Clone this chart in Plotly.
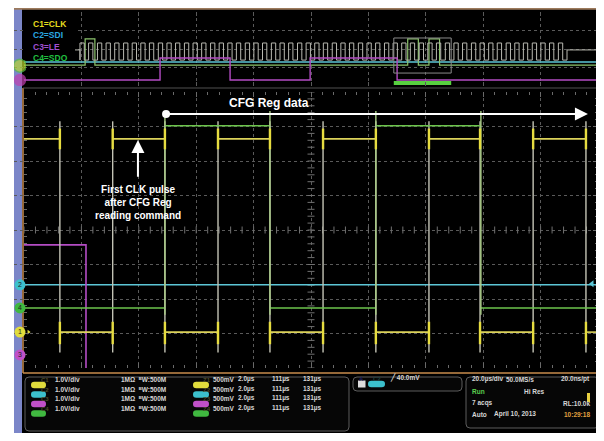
import plotly.graph_objects as go

# the page adds an 8 px body margin; the figure covers the window from (8, 8)
OFF = 8
W, H = 604 - OFF, 441 - OFF

# ---------------- main (zoomed) window: time in µs (20 µs/div), level in divisions
main_t_range = [-100, 100]
main_v_range = [-4, 4]

clk_edges = [-87.5, -69.1, -50.9, -32.4, -14.3, 4.2, 22.6, 41.1, 58.9, 77.4, 95.8]
clk_starts_high = True
clk_high, clk_low = 2.64, -2.96
clk_over_top, clk_over_bot = 3.15, -3.55

sdo_edges = [-50.9, -14.3, 22.6, 59.2]
sdo_starts_high = False
sdo_high, sdo_low = 3.02, -2.26
sdo_over_top = 3.45

sdi_level = -1.59

le_edges = [-78.4]
le_starts_high = True
le_high, le_low = -0.43, -4.6

ch_labels = ["1", "2", "3", "4"]
ch_ground = [clk_low, sdi_level, -3.62, sdo_low]

# annotation anchors (µs, div)
cfg_arrow_tail = (-50.5, 3.36)
cfg_arrow_head = (96.5, 3.36)
cfg_text_pos = (-14.6, 3.68)
first_arrow_tip = (-60.3, 2.61)
first_arrow_tail = (-60.3, 1.5)
first_text_pos = (-60.3, 0.79)

# ---------------- overview (whole record): time in µs, level in divisions
ov_t_range = [-1000, 1000]
ov_v_range = [-4, 4]
ov_clk_rise = [-805, -775, -744, -714, -684, -653, -623, -593, -563, -532, -502, -472,
               -441, -411, -381, -350, -320, -290, -260, -229, -199, -169, -138, -108,
               -78, -47, -17, 13, 43, 74, 104, 134, 165, 195, 225, 256, 286, 316, 346,
               377, 407, 437, 468, 498, 528, 559, 589, 619, 649, 680, 710, 740, 771,
               801, 831, 862]
ov_clk_half = 15
ov_clk_idle, ov_clk_high, ov_clk_low = -0.1, 0.65, -1.2
ov_sdi_level = -1.4
ov_sdo_edges = [-787, -753, 337, 374, 411, 448]
ov_sdo_high, ov_sdo_low = 1.1, -1.75
ov_le_edges = [-526, -282, -3, 300]
ov_le_high, ov_le_low = -0.97, -3.35
ov_zoom_center = 388.5
ov_zoom_top, ov_zoom_bot = 1.19, -2.6
ov_bar_level = -3.68
ov_marker_levels = [-1.8, -3.35]

# ---------------- readout texts
ch_scale = ["1.0V/div"] * 4
ch_input = ["1MΩ  ᴮW:500M"] * 4
ref_scale = ["500mV"] * 4
ref_time = ["2.0µs"] * 4
ref_pos1 = ["111µs"] * 4
ref_pos2 = ["131µs"] * 4
trig_level = "40.0mV"
acq_rows = [("20.0µs/div", "50.0MS/s", "20.0ns/pt"),
            ("Run", "Hi Res", ""),
            ("7 acqs", "", "RL:10.0k"),
            ("Auto", "April 10, 2013", "10:29:18")]
acq_mid_x = [504, 522, 0, 492]

# ---------------- colours
YEL = "#dcd35a"
CYN = "#5cc6d6"
MAG = "#b44cc4"
GRN = "#6cc44c"
EDGE = "#c4c4b6"
GRID = "#5a5a5a"
PILL = ["#e0dc3c", "#3cc0cc", "#c050c8", "#40b840"]
LEG = ["#e6dc1e", "#2aa8e0", "#a050d0", "#20c040"]


def X(px):
    return (px - OFF) / W


def Y(py):
    return 1 - (py - OFF) / H


def rrect(x0, y0, x1, y1, r):
    return (f"M {X(x0+r)},{Y(y0)} L {X(x1-r)},{Y(y0)} Q {X(x1)},{Y(y0)} {X(x1)},{Y(y0+r)} "
            f"L {X(x1)},{Y(y1-r)} Q {X(x1)},{Y(y1)} {X(x1-r)},{Y(y1)} "
            f"L {X(x0+r)},{Y(y1)} Q {X(x0)},{Y(y1)} {X(x0)},{Y(y1-r)} "
            f"L {X(x0)},{Y(y0+r)} Q {X(x0)},{Y(y0)} {X(x0+r)},{Y(y0)} Z")


def levels(edges, start_high, hi, lo, x0, x1):
    bounds = [x0] + list(edges) + [x1]
    xs, ys, state = [], [], start_high
    for a, b in zip(bounds[:-1], bounds[1:]):
        v = hi if state else lo
        xs += [a, b, None]
        ys += [v, v, None]
        state = not state
    return xs, ys


def verticals(edges, top, bot):
    xs, ys = [], []
    for e in edges:
        xs += [e, e, None]
        ys += [top, bot, None]
    return xs, ys


def step(edges, start_high, hi, lo, x0, x1):
    xs, ys, state = [x0], [hi if start_high else lo], start_high
    for e in edges:
        xs += [e, e]
        ys += [hi if state else lo, lo if state else hi]
        state = not state
    xs.append(x1)
    ys.append(hi if state else lo)
    return xs, ys


fig = go.Figure()

# ---------- main window traces
m = dict(xaxis="x", yaxis="y")
tx = [main_t_range[0] + 4 * i for i in range(51)]
ty = [main_v_range[0] + 0.2 * i for i in range(41)]
fig.add_trace(go.Scatter(x=tx, y=[0] * len(tx), mode="markers", hoverinfo="skip",
                         marker=dict(symbol="line-ns", size=5, line=dict(color="#707070", width=1)), **m))
fig.add_trace(go.Scatter(x=[0] * len(ty), y=ty, mode="markers", hoverinfo="skip",
                         marker=dict(symbol="line-ew", size=5, line=dict(color="#707070", width=1)), **m))

fig.add_trace(go.Scatter(x=main_t_range, y=[sdi_level] * 2, mode="lines",
                         line=dict(color=CYN, width=1.5), **m))
lx, ly = step(le_edges, le_starts_high, le_high, le_low, main_t_range[0], main_t_range[1])
fig.add_trace(go.Scatter(x=lx, y=ly, mode="lines", line=dict(color=MAG, width=1.6), **m))
ex, ey = verticals(clk_edges, clk_over_top, clk_over_bot)
fig.add_trace(go.Scatter(x=ex, y=ey, mode="lines", line=dict(color=EDGE, width=1.4), **m))
sx, sy = levels(sdo_edges, sdo_starts_high, sdo_high, sdo_low, main_t_range[0], main_t_range[1])
fig.add_trace(go.Scatter(x=sx, y=sy, mode="lines", line=dict(color=GRN, width=1.6), **m))
svx, svy = verticals(sdo_edges, sdo_over_top, sdo_low - 0.2)
fig.add_trace(go.Scatter(x=svx, y=svy, mode="lines", line=dict(color="#a8cc84", width=1.4), **m))
cx, cy = levels(clk_edges, clk_starts_high, clk_high, clk_low, main_t_range[0], main_t_range[1])
fig.add_trace(go.Scatter(x=cx, y=cy, mode="lines", line=dict(color=YEL, width=1.6), **m))
spx, spy = [], []
for e in clk_edges:
    spx += [e, e, None, e, e, None]
    spy += [clk_high - 0.3, clk_high + 0.3, None, clk_low - 0.35, clk_low + 0.3, None]
fig.add_trace(go.Scatter(x=spx, y=spy, mode="lines", line=dict(color="#e6dc40", width=2.4), **m))

fig.add_trace(go.Scatter(x=[cfg_arrow_tail[0]], y=[cfg_arrow_tail[1]], mode="markers",
                         marker=dict(color="white", size=8), **m))
fig.add_trace(go.Scatter(x=[97.9], y=[sdi_level + 0.03], mode="markers",
                         marker=dict(symbol="triangle-left", color=CYN, size=6), **m))
fig.add_trace(go.Scatter(x=[-98.4], y=[clk_low], mode="markers",
                         marker=dict(symbol="triangle-right", color=PILL[0], size=4), **m))

# channel ground markers, in a narrow strip left of the graticule
fig.add_trace(go.Scatter(x=[0.5] * 4, y=ch_ground, mode="markers+text", text=ch_labels,
                         textposition="middle center",
                         textfont=dict(size=7, color="#202020", family="Liberation Sans"),
                         marker=dict(color=PILL, size=11, line=dict(width=0)),
                         xaxis="x3", yaxis="y"))

# ---------- overview traces
o = dict(xaxis="x2", yaxis="y2")
ox, oy = [ov_t_range[0], ov_clk_rise[0]], [ov_clk_idle, ov_clk_idle]
for r in ov_clk_rise:
    ox += [r, r, r + ov_clk_half, r + ov_clk_half]
    oy += [ov_clk_low, ov_clk_high, ov_clk_high, ov_clk_low]
ox += [ov_clk_rise[-1] + 2 * ov_clk_half, ov_clk_rise[-1] + 2 * ov_clk_half, ov_t_range[1]]
oy += [ov_clk_low, ov_clk_idle, ov_clk_idle]
fig.add_trace(go.Scatter(x=ov_t_range, y=[ov_sdi_level] * 2, mode="lines",
                         line=dict(color=CYN, width=1.4), **o))
gx, gy = step(ov_sdo_edges, False, ov_sdo_high, ov_sdo_low, ov_t_range[0], ov_t_range[1])
fig.add_trace(go.Scatter(x=gx, y=gy, mode="lines", line=dict(color="#8cc46c", width=1.2), **o))
fig.add_trace(go.Scatter(x=ox, y=oy, mode="lines", line=dict(color="#b8b8b0", width=1), **o))
px_, py_ = step(ov_le_edges, False, ov_le_high, ov_le_low, ov_t_range[0], ov_t_range[1])
fig.add_trace(go.Scatter(x=px_, y=py_, mode="lines", line=dict(color=MAG, width=1.4), **o))
zx0, zx1 = ov_zoom_center - 100, ov_zoom_center + 100
fig.add_trace(go.Scatter(x=[zx0, zx1], y=[ov_bar_level] * 2, mode="lines",
                         line=dict(color="#58d040", width=4), **o))
fig.add_trace(go.Scatter(x=[zx0, zx1, zx1, zx0, zx0],
                         y=[ov_zoom_top, ov_zoom_top, ov_zoom_bot, ov_zoom_bot, ov_zoom_top],
                         mode="lines", line=dict(color="#8a8a8a", width=1), **o))
fig.add_trace(go.Scatter(x=[0.5, 0.5], y=ov_marker_levels, mode="markers",
                         marker=dict(color=["#b8d830", "#c040b0"], size=[13, 11],
                                     line=dict(color=["#58c040", "#c040b0"], width=1.5)),
                         xaxis="x3", yaxis="y2"))

# ---------- shapes
shapes = []
shapes.append(dict(type="rect", xref="paper", yref="paper", x0=X(22), x1=X(602), y0=Y(433), y1=Y(8),
                   fillcolor="#000000", line=dict(width=0), layer="below"))
shapes.append(dict(type="rect", xref="paper", yref="paper", x0=X(14), x1=X(22), y0=Y(433), y1=Y(8),
                   fillcolor="#7b86c8", line=dict(width=0), layer="below"))
shapes.append(dict(type="line", xref="paper", yref="paper", x0=X(14), x1=X(602), y0=Y(8.8), y1=Y(8.8),
                   line=dict(color="#9c7a5c", width=2), layer="below"))
frame = "#c88c4c"
shapes.append(dict(type="line", xref="paper", yref="paper", x0=X(23), x1=X(23), y0=Y(88), y1=Y(373),
                   line=dict(color=frame, width=1.5), layer="below"))
shapes.append(dict(type="line", xref="paper", yref="paper", x0=X(601), x1=X(601), y0=Y(8), y1=Y(373),
                   line=dict(color=frame, width=1.5), layer="below"))
shapes.append(dict(type="line", xref="paper", yref="paper", x0=X(23), x1=X(601), y0=Y(373), y1=Y(373),
                   line=dict(color=frame, width=1.5), layer="below"))
shapes.append(dict(type="line", xref="paper", yref="paper", x0=X(23), x1=X(601), y0=Y(88), y1=Y(88),
                   line=dict(color="#505050", width=1), layer="below"))
shapes.append(dict(type="rect", xref="paper", yref="paper", x0=X(23), x1=X(75), y0=Y(60), y1=Y(10),
                   fillcolor="#000000", line=dict(width=0), layer="above"))
box_line = "#5c5c5c"
for (a, b, c, d) in [(25, 377, 349, 431), (353, 377, 462, 391), (466, 377, 599, 428)]:
    shapes.append(dict(type="path", xref="paper", yref="paper", path=rrect(a, b, c, d, 4),
                       fillcolor="#060606", line=dict(color=box_line, width=1), layer="below"))

ann = []
fnt = "Liberation Sans, Arial, sans-serif"
rows1 = [385, 394.5, 404, 413.5]
for i in range(4):
    yy = rows1[i]
    shapes.append(dict(type="path", xref="paper", yref="paper", path=rrect(31, yy - 3.3, 46, yy + 3.3, 3.3),
                       fillcolor=PILL[i], line=dict(width=0), layer="below"))
    shapes.append(dict(type="path", xref="paper", yref="paper", path=rrect(193, yy - 3.3, 209, yy + 3.3, 3.3),
                       fillcolor=PILL[i], line=dict(width=0), layer="below"))
    ann.append(dict(x=X(38.5), y=Y(yy), text=f"<b>C{i+1}</b>", font=dict(size=6, color="#4a4a2a", family=fnt)))
    ann.append(dict(x=X(201), y=Y(yy), text=f"<b>Z{i+1}</b>", font=dict(size=6, color="#4a4a2a", family=fnt)))
    for txt, xp in [(ch_scale[i], 53), (ch_input[i], 119), (ref_scale[i], 211), (ref_time[i], 236),
                    (ref_pos1[i], 270), (ref_pos2[i], 301)]:
        ann.append(dict(x=X(xp), y=Y(yy), text=f"<b>{txt}</b>", xanchor="left",
                        font=dict(size=6.5, color="#d6d6d6", family=fnt)))
shapes.append(dict(type="rect", xref="paper", yref="paper", x0=X(358), x1=X(365.5), y0=Y(387.5), y1=Y(380.5),
                   fillcolor="#dcdcdc", line=dict(width=0), layer="below"))
shapes.append(dict(type="path", xref="paper", yref="paper", path=rrect(368, 380.7, 385, 387.3, 3.3),
                   fillcolor=PILL[1], line=dict(width=0), layer="below"))
ann.append(dict(x=X(361.7), y=Y(384), text="<b>A</b>", font=dict(size=6, color="#202060", family=fnt)))
ann.append(dict(x=X(376.5), y=Y(384), text="<b>C2</b>", font=dict(size=6, color="#204040", family=fnt)))
ann.append(dict(x=X(388), y=Y(384), text=f"<b>╱ {trig_level}</b>", xanchor="left",
                font=dict(size=6.5, color="#d6d6d6", family=fnt)))
rows3 = [385, 397, 408.5, 420]
for (l, mtxt, r), yy, xm in zip(acq_rows, rows3, acq_mid_x):
    if l:
        ann.append(dict(x=X(470), y=Y(yy), text=f"<b>{l}</b>", xanchor="left",
                        font=dict(size=6.5, color="#5cd050" if l == "Run" else "#d6d6d6", family=fnt)))
    if mtxt:
        ann.append(dict(x=X(xm), y=Y(yy), text=f"<b>{mtxt}</b>", xanchor="left",
                        font=dict(size=6.5, color="#d6d6d6", family=fnt)))
    if r:
        ann.append(dict(x=X(592), y=Y(yy), text=f"<b>{r}</b>", xanchor="right",
                        font=dict(size=6.5, color="#e0a040" if r.count(":") == 2 else "#d6d6d6",
                                  family=fnt)))
shapes.append(dict(type="rect", xref="paper", yref="paper", x0=X(587), x1=X(590), y0=Y(402), y1=Y(393),
                   fillcolor="#e8d040", line=dict(width=0), layer="below"))

for i, (t, yy) in enumerate(zip(["C1=CLK", "C2=SDI", "C3=LE", "C4=SDO"], [17, 28.5, 40, 51])):
    ann.append(dict(x=X(31), y=Y(yy), text=f"<b>{t}</b>", xanchor="left",
                    font=dict(size=8.5, color=LEG[i], family=fnt)))

ann.append(dict(x=cfg_text_pos[0], y=cfg_text_pos[1], xref="x", yref="y", text="<b>CFG Reg data</b>",
                showarrow=False, font=dict(size=12, color="white", family=fnt)))
ann.append(dict(x=cfg_arrow_head[0], y=cfg_arrow_head[1], ax=cfg_arrow_tail[0], ay=cfg_arrow_tail[1],
                xref="x", yref="y", axref="x", ayref="y", text="", showarrow=True,
                arrowhead=2, arrowsize=1.3, arrowwidth=2, arrowcolor="white"))
ann.append(dict(x=first_arrow_tip[0], y=first_arrow_tip[1], ax=first_arrow_tail[0], ay=first_arrow_tail[1],
                xref="x", yref="y", axref="x", ayref="y", text="", showarrow=True,
                arrowhead=2, arrowsize=1.3, arrowwidth=2, arrowcolor="white"))
ann.append(dict(x=first_text_pos[0], y=first_text_pos[1], xref="x", yref="y",
                text="<b>First CLK pulse<br>after CFG Reg<br>reading command</b>",
                showarrow=False, align="center", font=dict(size=10, color="white", family=fnt)))

for a in ann:
    a.setdefault("xref", "paper")
    a.setdefault("yref", "paper")
    a.setdefault("showarrow", False)

axcommon = dict(showticklabels=False, zeroline=False, showline=False, griddash="dot",
                gridcolor=GRID, gridwidth=1)
fig.update_layout(
    width=W, height=H, margin=dict(l=0, r=0, t=0, b=0),
    paper_bgcolor="white", plot_bgcolor="rgba(0,0,0,0)", showlegend=False,
    shapes=shapes, annotations=ann,
    xaxis=dict(domain=[X(24), X(598)], range=main_t_range, dtick=20, tick0=-100, anchor="y",
               ticks="inside", ticklen=5, tickcolor="#6a6a6a", mirror="ticks",
               minor=dict(dtick=4, ticks="inside", ticklen=3, tickcolor="#6a6a6a", showgrid=False),
               **axcommon),
    yaxis=dict(domain=[Y(368), Y(92)], range=main_v_range, dtick=1, tick0=-4, anchor="x",
               ticks="inside", ticklen=5, tickcolor="#6a6a6a", mirror="ticks",
               minor=dict(dtick=0.2, ticks="inside", ticklen=3, tickcolor="#6a6a6a", showgrid=False),
               **axcommon),
    xaxis2=dict(domain=[X(24), X(598)], range=ov_t_range, dtick=200, tick0=-1000, anchor="y2",
                ticks="inside", ticklen=4, tickcolor="#5a5a5a", mirror="ticks",
                **axcommon),
    yaxis2=dict(domain=[Y(86), Y(12)], range=ov_v_range, dtick=2, tick0=-4, anchor="x2",
                **axcommon),
    xaxis3=dict(domain=[X(14), X(26)], range=[0, 1], visible=False, anchor="y"),
)

fig.write_html("out.html")
